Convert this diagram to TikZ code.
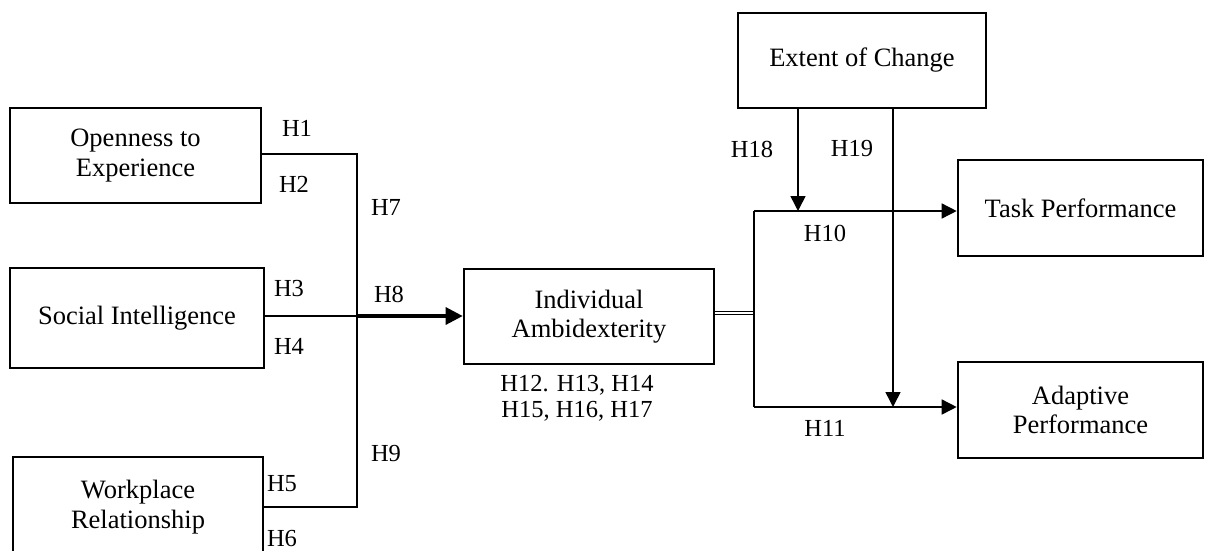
\documentclass[tikz,border=0pt]{standalone}
\usepackage{fontspec}
\setmainfont{Liberation Serif}
\usetikzlibrary{arrows.meta}
\begin{document}
\begin{tikzpicture}[x=1pt,y=-1pt,
  box/.style={draw,line width=2.6pt,inner sep=0pt,align=center,font=\fontsize{26.5}{29.5}\selectfont},
  conn/.style={line width=1.5pt},
  arr/.style={line width=1.5pt,-{Triangle[length=15pt,width=15pt]}},
  bigarr/.style={line width=3.2pt,-{Triangle[length=17pt,width=17pt]}},
  dbl/.style={double,line width=1pt,double distance=1.6pt},
  lbl/.style={inner sep=0pt,font=\fontsize{24.5}{27}\selectfont,align=center}]
\clip (0,0) rectangle (1205,550);
\fill[white] (0,0) rectangle (1205,550);
% boxes
\node[box,minimum width=251pt,minimum height=95pt] (OE) at (135.5,155.5) {Openness to\\Experience};
\node[box,minimum width=254pt,minimum height=100pt] (SI) at (137,318) {Social Intelligence};
\node[box,minimum width=250pt,minimum height=100pt] (WR) at (138,507) {Workplace\\Relationship};
\node[box,minimum width=250pt,minimum height=95pt] (IA) at (589,316.5) {Individual\\Ambidexterity};
\node[box,minimum width=248pt,minimum height=95pt] (EC) at (862,60.5) {Extent of Change};
\node[box,minimum width=245pt,minimum height=96pt] (TP) at (1080.5,208) {Task Performance};
\node[box,minimum width=245pt,minimum height=96pt] (AP) at (1080.5,410) {Adaptive\\Performance};
% junction points
\coordinate (J) at (357,316);
\coordinate (K) at (754,313);
\coordinate (Kt) at (754,211);
\coordinate (Kb) at (754,407);
\coordinate (E1) at (798,108);
\coordinate (E2) at (893,108);
% left connectors
\draw[conn] (OE.east |- 0,154) -| (J);
\draw[conn] (WR.east) -| (J);
\draw[conn] (SI.east |- J) -- (J);
\draw[bigarr] (J) -- (IA.west |- J);
% right connectors
\draw[dbl] (IA.east |- K) -- (K);
\draw[conn] (Kt) -- (Kb);
\draw[arr] (Kt) -- (TP.west |- Kt);
\draw[arr] (Kb) -- (AP.west |- Kb);
\draw[arr] (E1) -- (E1 |- Kt);
\draw[arr] (E2) -- (E2 |- Kb);
% labels
\node[lbl] (h1) at (297,128) {H1};
\node[lbl] (h2) at (294,184) {H2};
\node[lbl] (h7) at (386,207) {H7};
\node[lbl] (h3) at (289,289) {H3};
\node[lbl] (h8) at (389,294) {H8};
\node[lbl] (h4) at (289,346) {H4};
\node[lbl] (h5) at (282,484) {H5};
\node[lbl] (h6) at (282,538) {H6};
\node[lbl] (h9) at (386,453) {H9};
\node[lbl] (h12) at (577,385) {H12. H13, H14};
\node[lbl] (h15) at (577,411) {H15, H16, H17};
\node[lbl] (h18) at (752,149) {H18};
\node[lbl] (h19) at (852,149) {H19};
\node[lbl] (h10) at (825,233) {H10};
\node[lbl] (h11) at (825,428) {H11};
\end{tikzpicture}
\end{document}
